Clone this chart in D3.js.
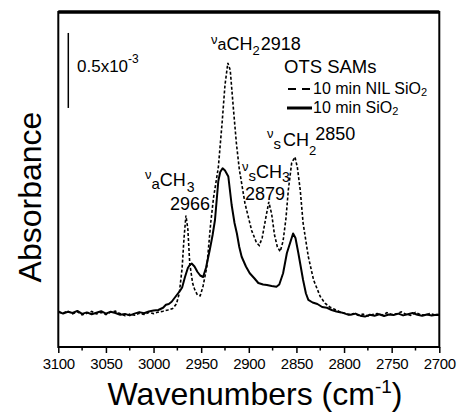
<!DOCTYPE html>
<html>
<head>
<meta charset="utf-8">
<script src="https://cdn.jsdelivr.net/npm/d3@7"></script>
<style>
  body { margin: 0; background: #fff; }
  text { font-family: "Liberation Sans", Arial, sans-serif; fill: #000; }
</style>
</head>
<body>
<div id="chart"></div>
<script>
// wavenumbers (cm-1) and absorbance (x10^-3)
var nilWavenumbers = [3100, 3095, 3090, 3085, 3080, 3075, 3070, 3065, 3060, 3055, 3050, 3045, 3040, 3035, 3030, 3025, 3020, 3015, 3010, 3005, 3000, 2995, 2990, 2985, 2980, 2976, 2973, 2970, 2968, 2966, 2964, 2962, 2959, 2957, 2954, 2951, 2948, 2944, 2940, 2937, 2932, 2928, 2925, 2922, 2919.5, 2916, 2913, 2910, 2904, 2897, 2892, 2889, 2886, 2882, 2879, 2876, 2873, 2870, 2867, 2864, 2861, 2858.5, 2855, 2851.5, 2849, 2846, 2843, 2837.5, 2832, 2825, 2820, 2815, 2810, 2805, 2800, 2795, 2790, 2785, 2780, 2775, 2770, 2765, 2760, 2755, 2750, 2745, 2740, 2735, 2730, 2725, 2720, 2715, 2710, 2705, 2700];
var nilAbsorbance = [0.005, 0.0, 0.012, -0.005, 0.008, -0.012, -0.002, 0.01, -0.006, 0.004, -0.01, 0.006, 0.012, -0.004, -0.018, -0.008, -0.015, -0.002, -0.01, 0.004, -0.004, 0.006, 0.012, 0.02, 0.03, 0.06, 0.13, 0.3, 0.5, 0.65, 0.56, 0.33, 0.2, 0.16, 0.12, 0.115, 0.18, 0.31, 0.6, 0.77, 0.97, 1.27, 1.52, 1.667, 1.62, 1.35, 1.13, 0.96, 0.73, 0.55, 0.47, 0.45, 0.5, 0.64, 0.74, 0.66, 0.52, 0.44, 0.41, 0.48, 0.63, 0.82, 1.0, 1.04, 0.97, 0.82, 0.6, 0.375, 0.22, 0.11, 0.065, 0.04, 0.025, 0.01, 0.0, -0.012, -0.004, -0.016, -0.008, -0.02, -0.01, -0.004, -0.014, 0.002, -0.01, -0.006, 0.008, -0.008, -0.016, 0.004, -0.01, -0.014, -0.004, -0.012, -0.01];

var sio2Wavenumbers = [3100, 3095, 3090, 3085, 3080, 3075, 3070, 3065, 3060, 3055, 3050, 3045, 3040, 3035, 3030, 3025, 3020, 3015, 3010, 3005, 3000, 2995, 2990, 2987, 2984, 2981, 2978, 2975, 2972, 2970, 2967, 2964, 2962, 2960, 2957, 2954, 2951, 2948, 2945, 2941, 2938, 2935.5, 2932, 2930, 2927.5, 2925, 2921.5, 2918, 2915, 2912.5, 2910, 2907.5, 2903, 2899, 2894, 2890, 2885, 2881, 2876, 2871, 2868, 2864, 2860, 2856, 2853.5, 2851, 2848, 2843, 2840, 2837.5, 2833, 2828, 2823, 2818, 2813, 2808, 2803, 2798, 2793, 2788, 2783, 2778, 2773, 2768, 2763, 2758, 2753, 2748, 2743, 2738, 2733, 2728, 2723, 2718, 2713, 2708, 2703, 2700];
var sio2Absorbance = [0.01, -0.004, 0.008, 0.0, 0.014, -0.006, 0.004, -0.008, 0.002, 0.012, -0.004, 0.008, 0.0, -0.012, -0.006, -0.016, -0.004, 0.006, -0.002, 0.01, 0.016, 0.02, 0.035, 0.055, 0.06, 0.075, 0.1, 0.125, 0.15, 0.17, 0.24, 0.3, 0.32, 0.33, 0.31, 0.275, 0.25, 0.24, 0.3, 0.42, 0.52, 0.62, 0.88, 0.94, 0.965, 0.95, 0.91, 0.72, 0.6, 0.53, 0.44, 0.375, 0.31, 0.265, 0.23, 0.2, 0.19, 0.187, 0.18, 0.175, 0.19, 0.265, 0.4, 0.48, 0.53, 0.5, 0.4, 0.22, 0.13, 0.087, 0.07, 0.06, 0.04, 0.035, 0.02, 0.01, 0.004, -0.006, -0.012, -0.004, -0.018, -0.024, -0.012, -0.018, -0.008, -0.02, -0.01, -0.014, -0.004, -0.016, -0.008, 0.0, -0.012, -0.018, -0.01, -0.016, -0.012, -0.014];

var xTicks = [3100, 3050, 3000, 2950, 2900, 2850, 2800, 2750, 2700];
var xMinorTicks = [3075, 3025, 2975, 2925, 2875, 2825, 2775, 2725];
var seriesNames = ["10 min NIL SiO", "10 min SiO"];
var scaleBarValue = 0.5;

var margin = { top: 12, right: 24.7, bottom: 66, left: 58.3 },
  width = 464 - margin.left - margin.right,
  height = 413 - margin.top - margin.bottom;

var svg = d3
  .select("#chart")
  .append("svg")
  .attr("width", 464)
  .attr("height", 413);

var g = svg
  .append("g")
  .attr("transform", "translate(" + margin.left + "," + margin.top + ")");

// set the ranges
var x = d3.scaleLinear().domain([3100, 2700]).range([0, width]);
var y = d3.scaleLinear().domain([-0.2267, 2.0067]).range([height, 0]);

var line = d3
  .line()
  .x((d) => x(d[0]))
  .y((d) => y(d[1]));

var nilData = nilWavenumbers.map((w, i) => [w, nilAbsorbance[i]]);
var sio2Data = sio2Wavenumbers.map((w, i) => [w, sio2Absorbance[i]]);

// spectra
g.append("path")
  .attr("d", line(nilData))
  .attr("fill", "none")
  .attr("stroke", "#000")
  .attr("stroke-width", 1.6)
  .attr("stroke-dasharray", "3,2");

g.append("path")
  .attr("d", line(sio2Data))
  .attr("fill", "none")
  .attr("stroke", "#000")
  .attr("stroke-width", 2)
  .attr("stroke-linejoin", "round");

// frame
g.append("rect")
  .attr("width", width)
  .attr("height", height)
  .attr("fill", "none")
  .attr("stroke", "#000")
  .attr("stroke-width", 2);
g.append("line")
  .attr("x1", 0).attr("x2", width)
  .attr("y1", 0).attr("y2", 0)
  .attr("stroke", "#000")
  .attr("stroke-width", 3.5);

// x axis, ticks pointing out
var xAxis = g
  .append("g")
  .attr("transform", "translate(0," + height + ")")
  .call(d3.axisBottom(x).tickValues(xTicks).tickSize(6).tickPadding(5).tickFormat(d3.format("d")));
xAxis.select(".domain").remove();
xAxis.selectAll("line").attr("stroke-width", 1.5);
xAxis.selectAll("text")
  .style("font-size", "15px")
  .style("letter-spacing", "-0.3px")
  .style("font-family", "'Liberation Sans', Arial, sans-serif");

g.append("g")
  .selectAll("line")
  .data(xMinorTicks)
  .enter()
  .append("line")
  .attr("x1", (d) => x(d)).attr("x2", (d) => x(d))
  .attr("y1", height).attr("y2", height + 3.5)
  .attr("stroke", "#000")
  .attr("stroke-width", 1.5);

// axis titles
var xTitle = svg.append("text")
  .attr("x", 255)
  .attr("y", 405)
  .attr("text-anchor", "middle")
  .style("font-size", "32px");
xTitle.append("tspan").text("Wavenumbers (cm");
xTitle.append("tspan").attr("dy", -12).style("font-size", "19px").text("-1");
xTitle.append("tspan").attr("dy", 12).text(")");

svg.append("text")
  .attr("transform", "translate(41,197) rotate(-90)")
  .attr("text-anchor", "middle")
  .style("font-size", "32px")
  .text("Absorbance");

// scale bar
var barX = x(3089.5);
g.append("line")
  .attr("x1", barX).attr("x2", barX)
  .attr("y1", y(1.367)).attr("y2", y(1.367 + scaleBarValue))
  .attr("stroke", "#000")
  .attr("stroke-width", 1.5);
var barLabel = svg.append("text").attr("x", 77).attr("y", 72).style("font-size", "17px");
barLabel.append("tspan").text(scaleBarValue + "x10");
barLabel.append("tspan").attr("dy", -9).style("font-size", "12px").text("-3");

// peak labels
function peakLabel(px, py, parts) {
  var t = svg.append("text").attr("x", px).attr("y", py).style("font-size", "18px");
  parts.forEach(function (p) {
    t.append("tspan")
      .attr("dy", p.dy || 0)
      .attr("dx", p.dx || 0)
      .style("font-size", (p.size || 18) + "px")
      .text(p.t);
  });
  return t;
}

peakLabel(211, 50, [
  { t: "\u03bd", size: 13, dy: -6 },
  { t: "a", size: 16, dy: 6 },
  { t: "CH" },
  { t: "2", size: 13, dy: 5 },
  { t: "2918", dy: -5, dx: 1 }
]);

peakLabel(267, 146, [
  { t: "\u03bd", size: 13, dy: -8 },
  { t: "s", size: 15, dy: 11 },
  { t: "CH", dy: -3, dx: 2 },
  { t: "2", size: 13, dy: 9 },
  { t: "2850", dy: -15, dx: -1 }
]);

peakLabel(145, 186, [
  { t: "\u03bd", size: 13, dy: -7 },
  { t: "a", size: 15, dy: 10 },
  { t: "CH", dy: -3 },
  { t: "3", size: 14, dy: 6, dx: 1 }
]);
svg.append("text").attr("x", 170).attr("y", 210).style("font-size", "18px").text("2966");

peakLabel(242, 178, [
  { t: "\u03bd", size: 13, dy: -7 },
  { t: "s", size: 15, dy: 10 },
  { t: "CH", dy: -3 },
  { t: "3", size: 14, dy: 4, dx: 0 }
]);
svg.append("text").attr("x", 245).attr("y", 200).style("font-size", "18px").text("2879");

// legend
svg.append("text").attr("x", 284).attr("y", 73).style("font-size", "18.5px").text("OTS SAMs");

var legend = svg.append("g");
legend.append("line")
  .attr("x1", 288).attr("x2", 312)
  .attr("y1", 89).attr("y2", 89)
  .attr("stroke", "#000")
  .attr("stroke-width", 2)
  .attr("stroke-dasharray", "8,6");
legend.append("line")
  .attr("x1", 287).attr("x2", 312)
  .attr("y1", 108).attr("y2", 108)
  .attr("stroke", "#000")
  .attr("stroke-width", 3);

seriesNames.forEach(function (name, i) {
  var t = svg.append("text")
    .attr("x", 313)
    .attr("y", 94 + i * 19)
    .style("font-size", "16px");
  t.append("tspan").text(name);
  t.append("tspan").attr("dy", 2).style("font-size", "11px").text("2");
});
</script>
</body>
</html>
